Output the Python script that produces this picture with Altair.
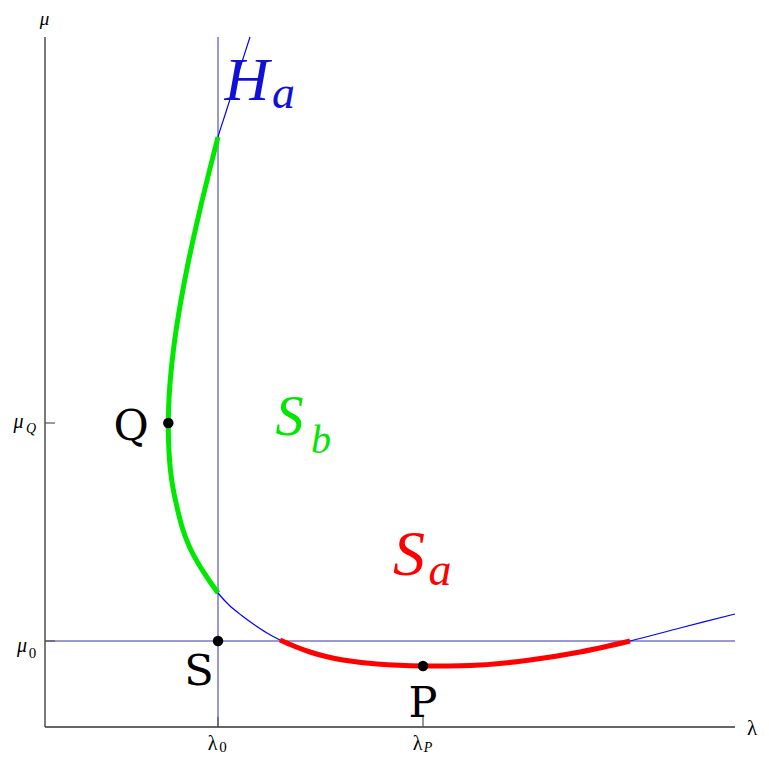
import altair as alt
import pandas as pd

# ---- data (lambda / mu in plot units) ----
lam_curve = [205, 196, 188, 180, 173,
             164.6, 156.5, 148.9, 141.9, 135.7, 130.4, 126.7, 124.2, 123.3,
             124, 126.7, 131.5, 138, 145, 153, 162.5, 173,
             184, 196, 209, 222, 235,
             250, 265, 281, 298, 332, 378, 435, 485, 535, 585,
             635, 690]
mu_curve = [690, 662, 637, 612, 590,
            557, 524, 491, 458, 425, 392, 362, 332, 304,
            275, 247, 222, 197, 179, 164, 149, 134,
            122, 112, 102.5, 94, 87,
            80.5, 75, 70.5, 67, 63, 61, 62, 67, 75, 86,
            99, 113]
green_range = (4, 21)   # S_b branch (indices into the curve)
red_range = (26, 36)    # S_a branch

lam0, lamP, lamQ = 173, 378, 123.3
mu0, muQ, muP = 86, 304, 61
lam_max, mu_max = 690, 690

pt_names = ["Q", "S", "P"]
pt_lam = [lamQ, lam0, lamP]
pt_mu = [muQ, mu0, muP]

# ---- frames ----
curve = pd.DataFrame({"lam": lam_curve, "mu": mu_curve, "i": range(len(lam_curve))})
green = curve.iloc[green_range[0]:green_range[1] + 1]
red = curve.iloc[red_range[0]:red_range[1] + 1]
pts = pd.DataFrame({"name": pt_names, "lam": pt_lam, "mu": pt_mu})

xs = alt.Scale(domain=[0, lam_max], nice=False, zero=False)
ys = alt.Scale(domain=[2, mu_max + 2], nice=False, zero=False)
X = alt.X("lam:Q", scale=xs, axis=None)
Y = alt.Y("mu:Q", scale=ys, axis=None)


def seg(df, color, width):
    return alt.Chart(df).mark_rule(color=color, strokeWidth=width).encode(
        x=alt.X("x1:Q", scale=xs, axis=None), x2="x2:Q",
        y=alt.Y("y1:Q", scale=ys, axis=None), y2="y2:Q",
    )


axes_df = pd.DataFrame({"x1": [0, 0], "x2": [lam_max, 0], "y1": [0, 0], "y2": [0, mu_max]})
refs_df = pd.DataFrame({"x1": [lam0, 0], "x2": [lam0, lam_max], "y1": [0, mu0], "y2": [mu_max, mu0]})
ticks_df = pd.DataFrame({"x1": [lam0, lamP, 0, 0], "x2": [lam0, lamP, 10, 10],
                         "y1": [0, 0, mu0, muQ], "y2": [10, 10, mu0, muQ]})

refs = seg(refs_df, "#34349c", 1)
axes = seg(axes_df, "#333333", 1.3)
ticks = seg(ticks_df, "#555555", 1.2)

blue_line = alt.Chart(curve).mark_line(color="#0000ff", strokeWidth=1.2, interpolate="catmull-rom").encode(
    x=X, y=Y, order="i:Q")
green_line = alt.Chart(green).mark_line(color="#00e800", strokeWidth=5, interpolate="catmull-rom").encode(
    x=X, y=Y, order="i:Q")
red_line = alt.Chart(red).mark_line(color="#ff0000", strokeWidth=5, interpolate="catmull-rom").encode(
    x=X, y=Y, order="i:Q")
dots = alt.Chart(pts).mark_circle(color="black", size=110, opacity=1).encode(x=X, y=Y)


def texts(rows, **kw):
    df = pd.DataFrame(rows, columns=["lam", "mu", "t", "c"])
    return alt.Chart(df).mark_text(align="center", baseline="alphabetic", **kw).encode(
        x=X, y=Y, text="t:N", color=alt.Color("c:N", scale=None))


serif = "Liberation Serif"
pt_labels = texts([[86, 287, "Q", "black"], [154, 42, "S", "black"], [378, 10, "P", "black"]],
                  font="DejaVu Serif", fontSize=43)
S_big = texts([[364, 152, "S", "#ff0000"]], font=serif, fontStyle="italic", fontSize=64)
S_mid = texts([[244.5, 292, "S", "#00e800"]], font=serif, fontStyle="italic", fontSize=56)
sub_a = texts([[395, 142, "a", "#ff0000"]], font=serif, fontStyle="italic", fontSize=46)
sub_b = texts([[276, 274, "b", "#00e800"]], font=serif, fontStyle="italic", fontSize=40)
H = texts([[202, 627, "H", "#1010d8"]], font=serif, fontStyle="italic", fontSize=62)
H_sub = texts([[238.5, 619, "a", "#1010d8"]], font=serif, fontStyle="italic", fontSize=46)

tick_main = texts([[167.5, -23, "λ", "black"], [372.5, -23, "λ", "black"]], font=serif, fontSize=20)
tick_mu = texts([[-26.5, 299, "μ", "black"], [-23, 75, "μ", "black"]], font=serif, fontStyle="italic", fontSize=20)
tick_sub = texts([[178, -25, "0", "black"], [-12.5, 69, "0", "black"]], font=serif, fontSize=15)
tick_sub_it = texts([[383, -25, "P", "black"], [-14, 294, "Q", "black"]], font=serif, fontStyle="italic", fontSize=14)
titles_mu = texts([[-0.5, 702, "μ", "black"]], font=serif, fontStyle="italic", fontSize=19)
titles_lam = texts([[707, -8, "λ", "black"]], font=serif, fontSize=21)

chart = alt.layer(
    refs, blue_line, green_line, red_line, axes, ticks, dots,
    pt_labels, S_big, S_mid, sub_a, sub_b, H, H_sub,
    tick_main, tick_mu, tick_sub, tick_sub_it, titles_mu, titles_lam,
).properties(
    width=690, height=690,
    padding={"left": 37, "top": 27, "right": 26, "bottom": 30},
    autosize=alt.AutoSizeParams(type="none"),
).configure_view(stroke=None)

chart.save("out.html", embed_options={"renderer": "svg", "actions": False})
